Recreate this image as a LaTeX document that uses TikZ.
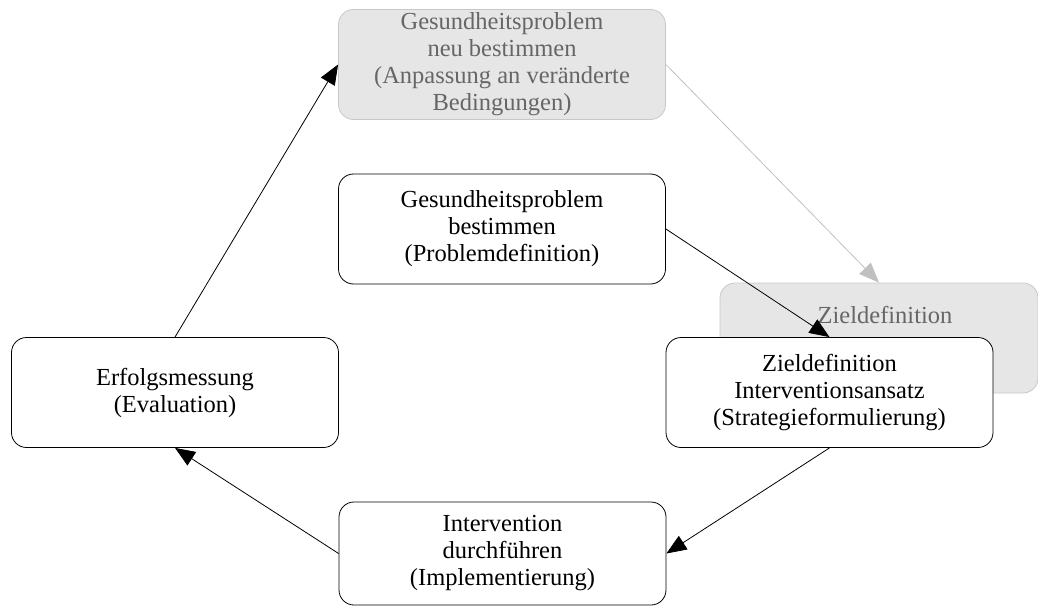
\documentclass[tikz,border=0pt]{standalone}
\usepackage{fontspec}
\setmainfont{Liberation Serif}
\usetikzlibrary{arrows.meta}
\definecolor{gfill}{HTML}{E6E6E6}
\definecolor{gdraw}{HTML}{C8C8C8}
\definecolor{gtext}{HTML}{666666}
\definecolor{garrow}{HTML}{C0C0C0}
\begin{document}
\begin{tikzpicture}[x=1pt,y=-1pt,
  box/.style={draw=black, fill=white, rounded corners=15pt, line width=0.8pt,
    minimum width=327pt, minimum height=110pt, align=center, inner sep=0pt,
    font=\fontsize{24.5}{27}\selectfont},
  graybox/.style={box, draw=gdraw, fill=gfill, text=gtext},
  conn/.style={line width=0.8pt, -{Triangle[length=20pt,width=16pt]}},
  gconn/.style={conn, draw=garrow, -{Triangle[length=20pt,width=16pt,fill=garrow]}}
]
\useasboundingbox (0,0) rectangle (1038,607);
\node[graybox] (top) at (502,64.5) {Gesundheitsproblem\\neu bestimmen\\(Anpassung an veränderte\\Bedingungen)};
\node[box] (mid) at (502,229) {Gesundheitsproblem\\bestimmen\\(Problemdefinition)};
\node[graybox, minimum width=318pt] (zb) at (879,338) {};
\node[text=gtext, font=\fontsize{24.5}{27}\selectfont, inner sep=0pt] (zbt) at (885,315) {Zieldefinition};
\node[box] (front) at (829.5,392.5) {Zieldefinition\\Interventionsansatz\\(Strategieformulierung)};
\node[box] (left) at (175,392.5) {Erfolgsmessung\\(Evaluation)};
\node[box, minimum height=103pt] (bot) at (502.5,553.5) {Intervention\\durchführen\\(Implementierung)};
\draw[gconn] (top.east) -- (zb.north);
\draw[conn] (mid.east) -- (front.north);
\draw[conn] (front.south) -- (bot.east);
\draw[conn] (bot.west) -- (left.south);
\draw[conn] (left.north) -- (top.west);
\end{tikzpicture}
\end{document}
